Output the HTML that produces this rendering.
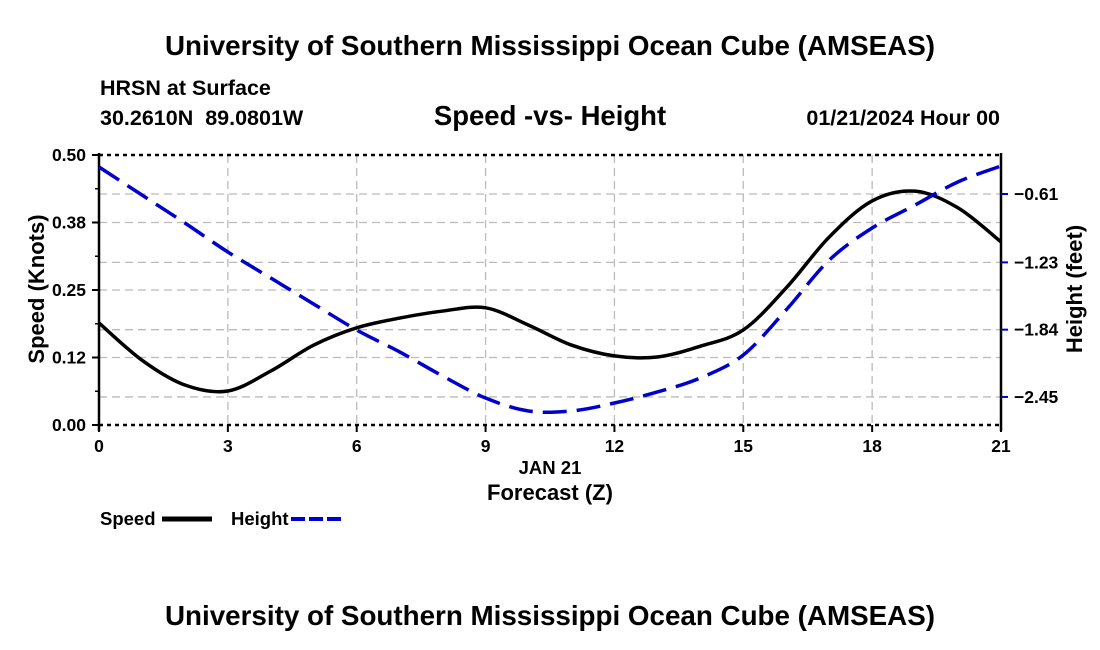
<!DOCTYPE html>
<html><head><meta charset="utf-8"><style>
body{margin:0;background:#fff;}
svg{display:block;font-family:"Liberation Sans",Arial,sans-serif;font-weight:bold;}
</style></head><body>
<svg id="chart" width="1100" height="650">
<text x="550" y="55" text-anchor="middle" font-size="27.8" textLength="770">University of Southern Mississippi Ocean Cube (AMSEAS)</text>
<text x="100" y="95" font-size="21.5">HRSN at Surface</text>
<text x="100" y="125" font-size="21.5" xml:space="preserve" style="white-space:pre">30.2610N  89.0801W</text>
<text x="550" y="125" text-anchor="middle" font-size="27.5">Speed -vs- Height</text>
<text x="1000" y="125" text-anchor="end" font-size="21.5">01/21/2024 Hour 00</text>
<g id="grid"></g>
<g id="axes"></g>
<g id="series"></g>
<text x="44" y="289" font-size="22" text-anchor="middle" transform="rotate(-90 44 289)">Speed (Knots)</text>
<text x="1082" y="289" font-size="22" text-anchor="middle" transform="rotate(-90 1082 289)">Height (feet)</text>
<text x="550" y="474" font-size="18.5" text-anchor="middle">JAN 21</text>
<text x="550" y="500" font-size="22" text-anchor="middle">Forecast (Z)</text>
<g>
<text x="100" y="525" font-size="18.5">Speed</text>
<line x1="162" y1="519" x2="212" y2="519" stroke="#000" stroke-width="5"/>
<text x="231" y="525" font-size="18.5">Height</text>
<line x1="291" y1="519" x2="342" y2="519" stroke="#0000cc" stroke-width="4" stroke-dasharray="14,4"/>
</g>
<text x="550" y="625" text-anchor="middle" font-size="27.8" textLength="770">University of Southern Mississippi Ocean Cube (AMSEAS)</text>
</svg>
<script>
const hours=[0,1,2,3,4,5,6,7,8,9,10,11,12,13,14,15,16,17,18,19,20,21];
const speed=[0.189,0.12,0.074,0.063,0.10,0.148,0.18,0.198,0.211,0.217,0.185,0.148,0.128,0.126,0.146,0.176,0.254,0.348,0.415,0.433,0.402,0.339];
const height=[-0.365,-0.619,-0.873,-1.136,-1.372,-1.608,-1.843,-2.042,-2.26,-2.46,-2.577,-2.577,-2.505,-2.405,-2.278,-2.07,-1.66,-1.21,-0.918,-0.71,-0.50,-0.356];
const xTicks=[0,3,6,9,12,15,18,21];
const leftTicks=[0,0.125,0.25,0.375,0.5];
const leftLabels=["0.00","0.12","0.25","0.38","0.50"];
const rightTicks=[-0.61,-1.23,-1.84,-2.45];
const rightLabels=["\u22120.61","\u22121.23","\u22121.84","\u22122.45"];
const L=99,R=1001,T=155,B=425,NS="http://www.w3.org/2000/svg";
const xs=h=>L+(R-L)*h/21;
const yl=v=>B-(B-T)*v/0.5;
const yr=v=>194+(-0.61-v)*110.3;
function mk(tag,attrs,parent){const e=document.createElementNS(NS,tag);for(const k in attrs)e.setAttribute(k,attrs[k]);document.getElementById(parent).appendChild(e);return e;}
xTicks.slice(1,-1).forEach(h=>{const e=mk('line',{x1:xs(h),x2:xs(h),y1:T,y2:B,stroke:'#bbb','stroke-width':1.3,'stroke-dasharray':'8,5'},'grid');

});
leftTicks.slice(1,-1).forEach(v=>{const e=mk('line',{x1:L,x2:R,y1:yl(v),y2:yl(v),stroke:'#bbb','stroke-width':1.3,'stroke-dasharray':'8,5'},'grid');

});
[L,R].forEach((x,i)=>{const e=mk('line',{x1:x,y1:T-2,x2:x,y2:B+6,stroke:'#000','stroke-width':2.5},'axes');

});
[T,B].forEach((y,i)=>{const e=mk('line',{x1:L,x2:R,y1:y,y2:y,stroke:'#000','stroke-width':2.5,'stroke-dasharray':'4,4'},'axes');

});
xTicks.forEach(h=>{const t=mk('text',{x:xs(h),y:B+27,'text-anchor':'middle','font-size':17.5},'axes');t.textContent=h;


const l=mk('line',{x1:xs(h),x2:xs(h),y1:B,y2:B+7,stroke:'#000','stroke-width':2},'axes');

});
leftTicks.forEach((v,i)=>{const t=mk('text',{x:L-13,y:yl(v)+6,'text-anchor':'end','font-size':17.5},'axes');t.textContent=leftLabels[i];


const l=mk('line',{x1:L-7,x2:L,y1:yl(v),y2:yl(v),stroke:'#000','stroke-width':2},'axes');

});
[0.0625,0.1875,0.3125,0.4375].forEach(v=>{const l=mk('line',{x1:L-4,x2:L,y1:yl(v),y2:yl(v),stroke:'#000','stroke-width':1.5},'axes');

});
rightTicks.forEach((v,i)=>{const t=mk('text',{x:R+13,y:yr(v)+6,'font-size':17.5},'axes');t.textContent=rightLabels[i];


const l=mk('line',{x1:R,x2:R+7,y1:yr(v),y2:yr(v),stroke:'#0000cc','stroke-width':2},'axes');


const g=mk('line',{x1:L,x2:R,y1:yr(v),y2:yr(v),stroke:'#bbb','stroke-width':1.3,'stroke-dasharray':'8,5'},'grid');

});
function smooth(pts){let d='M'+pts[0][0]+','+pts[0][1];for(let i=0;i<pts.length-1;i++){const p0=pts[Math.max(0,i-1)],p1=pts[i],p2=pts[i+1],p3=pts[Math.min(pts.length-1,i+2)];
d+=' C'+(p1[0]+(p2[0]-p0[0])/6)+','+(p1[1]+(p2[1]-p0[1])/6)+' '+(p2[0]-(p3[0]-p1[0])/6)+','+(p2[1]-(p3[1]-p1[1])/6)+' '+p2[0]+','+p2[1];}return d;}
const sp=mk('path',{d:smooth(hours.map((h,i)=>[xs(h),yl(speed[i])])),fill:'none',stroke:'#000','stroke-width':3.5},'series');


const hp=mk('path',{d:smooth(hours.map((h,i)=>[xs(h),yr(height[i])])),fill:'none',stroke:'#0000cc','stroke-width':3.5,'stroke-dasharray':'24,10'},'series');


</script>
</body></html>
